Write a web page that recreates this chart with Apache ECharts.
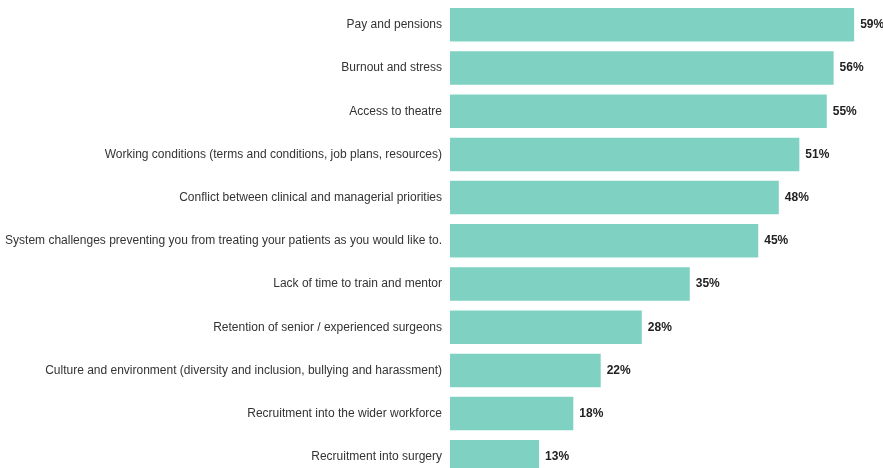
<!DOCTYPE html>
<html>
<head>
<meta charset="utf-8">
<script src="https://cdn.jsdelivr.net/npm/echarts@6/dist/echarts.min.js"></script>
<style>
  html, body { margin: 0; padding: 0; background: #ffffff; overflow: hidden; }
  /* canvas is taller than the window so the last row runs off the bottom */
  #chart { width: 883px; height: 480px; }
</style>
</head>
<body>
<div id="chart"></div>
<script>
// Issues reported by respondents, share of responses (%)
const categories = [
  'Pay and pensions',
  'Burnout and stress',
  'Access to theatre',
  'Working conditions (terms and conditions, job plans, resources)',
  'Conflict between clinical and managerial priorities',
  'System challenges preventing you from treating your patients as you would like to.',
  'Lack of time to train and mentor',
  'Retention of senior / experienced surgeons',
  'Culture and environment (diversity and inclusion, bullying and harassment)',
  'Recruitment into the wider workforce',
  'Recruitment into surgery'
];
const values = [59, 56, 55, 51, 48, 45, 35, 28, 22, 18, 13];

const chart = echarts.init(document.getElementById('chart'), null, { renderer: 'canvas' });
chart.setOption({
  animation: false,
  grid: { left: 450, width: 411, top: 3.2, height: 475.2, containLabel: false },
  xAxis: {
    type: 'value', min: 0, max: 60,
    show: false
  },
  yAxis: {
    type: 'category',
    data: categories,
    inverse: true,
    axisLine: { show: false },
    axisTick: { show: false },
    splitLine: { show: false },
    axisLabel: {
      margin: 8,
      color: '#333333',
      fontFamily: 'Liberation Sans, Arial, sans-serif',
      fontSize: 12
    }
  },
  series: [{
    type: 'bar',
    data: values,
    barCategoryGap: '22.5%',
    itemStyle: { color: '#7fd1c1' },
    label: {
      show: true,
      position: 'right',
      distance: 6,
      formatter: '{c}%',
      color: '#222222',
      fontWeight: 'bold',
      fontFamily: 'Liberation Sans, Arial, sans-serif',
      fontSize: 12
    }
  }]
});
</script>
</body>
</html>
